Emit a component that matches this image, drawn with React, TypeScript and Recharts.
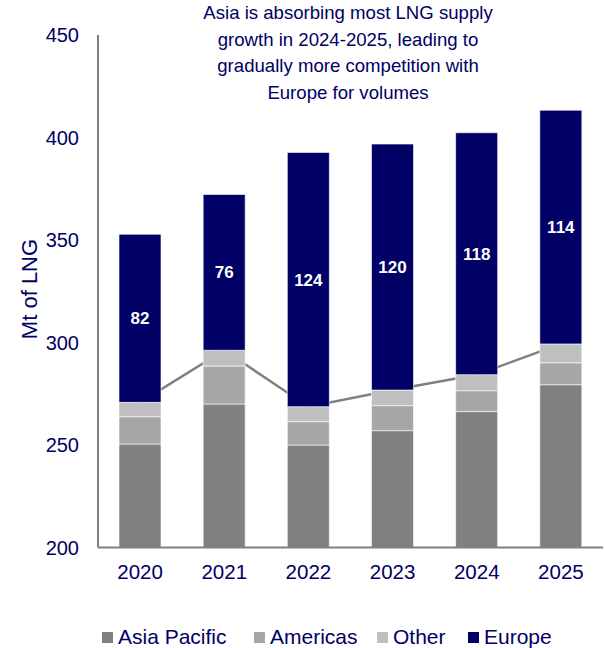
import React from 'react';
import { ComposedChart, Bar, Line, XAxis, YAxis, LabelList } from 'recharts';

const years = ['2020', '2021', '2022', '2023', '2024', '2025'];
const asiaPacific = [250.5, 270, 250, 257, 266.3, 279.4];
const americas = [13.3, 18.5, 11.4, 12.2, 10.2, 10.7];
const other = [7, 7.7, 7.3, 7.6, 7.8, 9.2];
const europe = [82, 76, 124, 120, 118, 114];
const yTicks = [200, 250, 300, 350, 400, 450];
const titleLines = [
  'Asia is absorbing most LNG supply',
  'growth in 2024-2025, leading to',
  'gradually more competition with',
  'Europe for volumes',
];

const NAVY = '#000066';
const FONT = "Arial, 'Liberation Sans', sans-serif";

const legendItems = [
  { name: 'Asia Pacific', color: '#808080', left: 102 },
  { name: 'Americas', color: '#a6a6a6', left: 254 },
  { name: 'Other', color: '#bfbfbf', left: 377 },
  { name: 'Europe', color: NAVY, left: 468 },
];

const data = years.map((year, i) => ({
  year,
  asia: asiaPacific[i],
  americas: americas[i],
  other: other[i],
  europe: europe[i],
  nonEurope: asiaPacific[i] + americas[i] + other[i],
}));

const chartMargin = { top: 35, right: 1, left: 0, bottom: 70.5 };

export default function App() {
  // both charts share the same axes so the line (drawn underneath) lines up with the bars
  const xAxisProps = {
    dataKey: 'year',
    scale: 'band' as const,
    height: 30,
    tickLine: false,
    tickSize: 0,
    tickMargin: 17,
  };
  const yAxisProps = {
    width: 98,
    domain: [200, 450] as [number, number],
    ticks: yTicks,
    allowDataOverflow: true,
    tickLine: false,
    tickSize: 0,
    tickMargin: 19,
  };
  return (
    <div style={{ position: 'absolute', left: 0, top: 0, width: 604, height: 648, fontFamily: FONT, background: '#fff' }}>
      <div
        style={{
          position: 'absolute', left: 198, top: 0, width: 300, textAlign: 'center',
          fontSize: 18.6, lineHeight: '26.7px', color: NAVY, whiteSpace: 'nowrap',
        }}
      >
        {titleLines.map(t => <div key={t}>{t}</div>)}
      </div>
      <div
        style={{
          position: 'absolute', left: 30, top: 289, transform: 'translate(-50%, -50%) rotate(-90deg)',
          fontSize: 22, color: NAVY, whiteSpace: 'nowrap',
        }}
      >
        Mt of LNG
      </div>
      <div style={{ position: 'absolute', left: 0, top: 0 }}>
        <ComposedChart width={604} height={648} data={data} margin={chartMargin}>
          <XAxis {...xAxisProps} axisLine={false} tick={false} />
          <YAxis {...yAxisProps} axisLine={false} tick={false} />
          <Line dataKey="nonEurope" stroke="#808080" strokeWidth={2.5} dot={false} isAnimationActive={false} />
        </ComposedChart>
      </div>
      <div style={{ position: 'absolute', left: 0, top: 0 }}>
        <ComposedChart width={604} height={648} data={data} margin={chartMargin}>
          <XAxis
            {...xAxisProps}
            axisLine={{ stroke: '#808080', strokeWidth: 2 }}
            tick={{ fill: NAVY, fontSize: 20.5, fontFamily: FONT }}
          />
          <YAxis
            {...yAxisProps}
            axisLine={{ stroke: '#808080', strokeWidth: 2 }}
            tick={{ fill: NAVY, fontSize: 20, fontFamily: FONT }}
          />
          <Bar dataKey="asia" stackId="a" barSize={42} fill="#808080" stroke="#ffffff" strokeWidth={0.6} isAnimationActive={false} />
          <Bar dataKey="americas" stackId="a" barSize={42} fill="#a6a6a6" stroke="#ffffff" strokeWidth={0.6} isAnimationActive={false} />
          <Bar dataKey="other" stackId="a" barSize={42} fill="#bfbfbf" stroke="#ffffff" strokeWidth={0.6} isAnimationActive={false} />
          <Bar dataKey="europe" stackId="a" barSize={42} fill={NAVY} stroke="#ffffff" strokeWidth={0.6} isAnimationActive={false}>
            <LabelList dataKey="europe" position="center" fill="#ffffff" fontSize={17} fontWeight="bold" fontFamily={FONT} />
          </Bar>
        </ComposedChart>
      </div>
      {legendItems.map(item => (
        <div
          key={item.name}
          style={{ position: 'absolute', left: item.left, top: 625, display: 'flex', alignItems: 'center', fontSize: 21, color: NAVY }}
        >
          <div style={{ width: 11, height: 11, background: item.color, marginRight: 5 }} />
          <span>{item.name}</span>
        </div>
      ))}
    </div>
  );
}
